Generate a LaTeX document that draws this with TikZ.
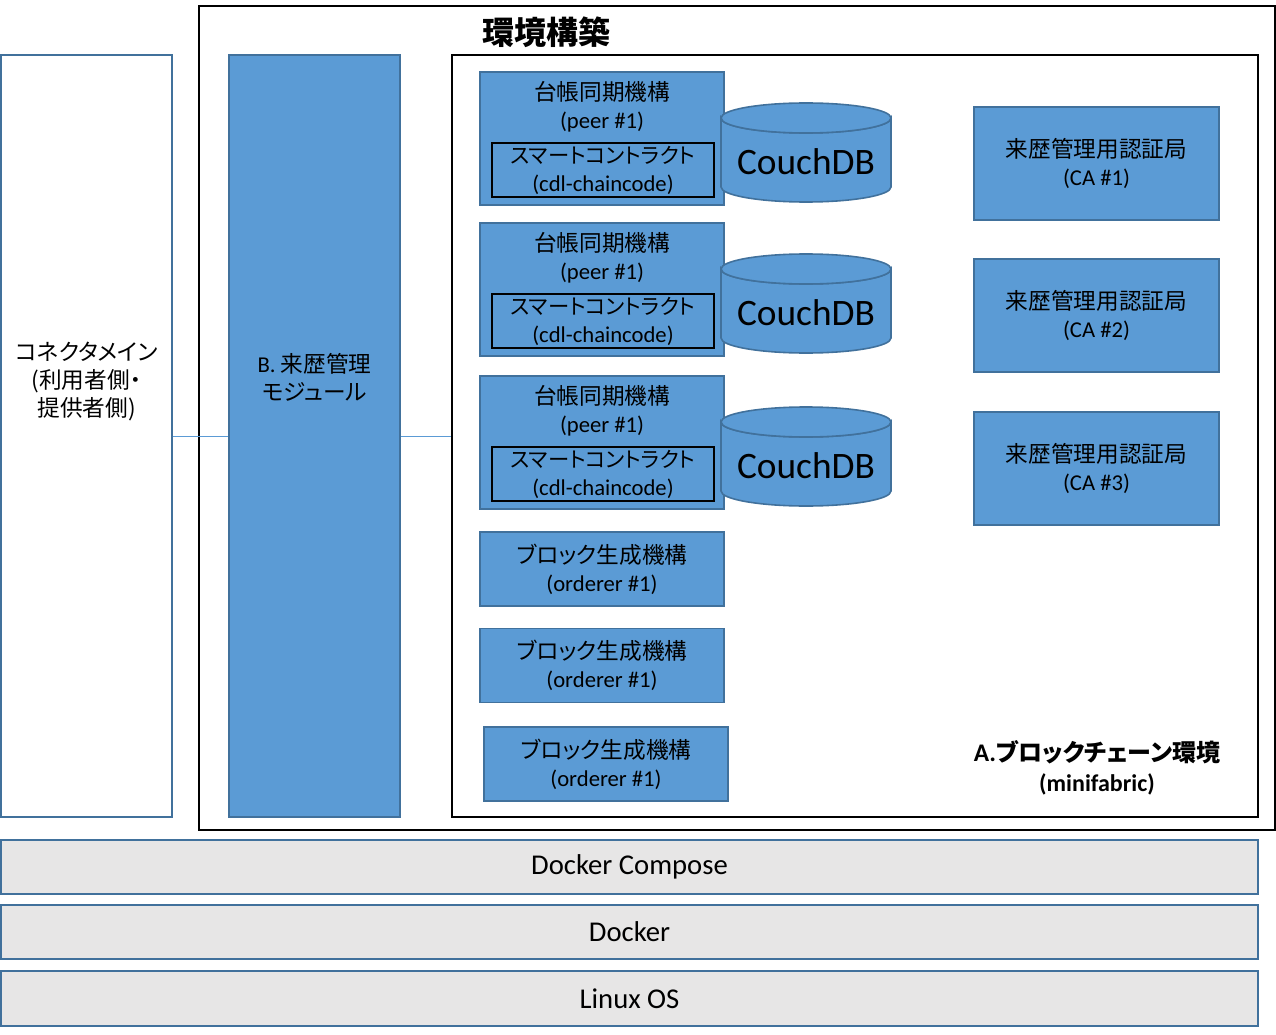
\documentclass[tikz,border=0pt]{standalone}
\usepackage{fontspec}
\setmainfont{Carlito}
\newfontfamily\jp[RawFeature=+palt]{Noto Sans CJK JP}
\usetikzlibrary{calc}
\definecolor{blufill}{HTML}{5B9BD5}
\definecolor{bluedge}{HTML}{41719C}
\definecolor{layfill}{HTML}{E7E6E6}
\newcommand\jpmid{\jp\fontsize{17pt}{21pt}\selectfont}
\newcommand\smartname{{\fontsize{16pt}{21pt}\selectfont スマートコントラクト}}
\def\couchdb(#1,#2){\filldraw[dbshape] (#1-85, #2+15) -- (#1-85, #2+84) arc (180:0:85 and 15) -- (#1+85, #2+15) arc (0:180:85 and 15) -- cycle;
	\draw[dbshape] (#1, #2+15) ellipse (85 and 15);}
\tikzset{
	frame/.style={draw=black, line width=1.6pt, inner sep=0pt},
	blubox/.style={draw=bluedge, fill=blufill, line width=1.2pt, inner sep=0pt, font=\jpmid, align=center},
	peerbox/.style={blubox, minimum width=183pt, minimum height=99.75pt},
	smartbox/.style={draw=black, line width=1.4pt, inner sep=0pt, minimum width=166.5pt, minimum height=40.5pt, font=\jpmid, align=center},
	cabox/.style={blubox, minimum width=183.75pt, minimum height=84.75pt},
	ordbox/.style={blubox, minimum width=183pt, minimum height=55.5pt},
	tallbox/.style={draw=bluedge, line width=1.2pt, inner sep=0pt, minimum width=128.25pt, minimum height=571.5pt},
	layer/.style={draw=bluedge, fill=layfill, line width=1.6pt, inner sep=0pt, minimum width=942.75pt, font=\fontsize{21.5pt}{25pt}\selectfont},
	dbshape/.style={draw=bluedge, fill=blufill, line width=1.2pt},
	link/.style={draw=blufill, line width=0.6pt},
	txt/.style={font=\jpmid, align=center, inner sep=0pt},
}
\begin{document}
\begin{tikzpicture}[x=0.75pt, y=-0.75pt]
		%%%%% START %%%%%
		\useasboundingbox (0,0) rectangle (1276,1034);
		
		\node[tallbox, fill=white] (conn) at (86.5,436) {};
		\node[txt] (conntext) at (86.5,381) {コネクタメイン\\(利用者側・\\提供者側)};
		\node[tallbox, fill=blufill] (bmod) at (314.5,436) {};
		\node[txt] (bmodtext) at (314.5,377) {{\rmfamily B. }来歴管理\\モジュール};
		
		\node[frame, minimum width=807pt, minimum height=618pt] (env) at (737,418) {};
		\node[font=\jp\bfseries\fontsize{24pt}{28pt}\selectfont, inner sep=0pt] (envtitle) at (546,32) {環境構築};
		\node[frame, minimum width=604.5pt, minimum height=571.5pt] (chain) at (855,436) {};
		\node[txt, font=\jp\bfseries\fontsize{18pt}{22.5pt}\selectfont] (chaintitle) at (1097,768) {{\rmfamily\fontsize{19pt}{22.5pt}\selectfont A.}ブロックチェーン環境\\{\rmfamily (minifabric)}};
		
		\draw[link] (conn.east) -- (bmod.west);
		\draw[link] (bmod.east) -- (chain.west);
		
		\node[peerbox] (peer1) at (602,138.5) {};
		\node[txt] (peer1text) at (602,107) {台帳同期機構\\{\rmfamily (peer \#1)}};
		\node[smartbox] (smart1) at (603,170) {\smartname\\{\rmfamily (cdl-chaincode)}};
		\couchdb(806,103)
		\node[font=\fontsize{28pt}{32pt}\selectfont, inner sep=0pt] (db1) at (806,162) {CouchDB};
		
		\node[peerbox] (peer2) at (602,289.5) {};
		\node[txt] (peer2text) at (602,258) {台帳同期機構\\{\rmfamily (peer \#1)}};
		\node[smartbox] (smart2) at (603,321) {\smartname\\{\rmfamily (cdl-chaincode)}};
		\couchdb(806,254)
		\node[font=\fontsize{28pt}{32pt}\selectfont, inner sep=0pt] (db2) at (806,313) {CouchDB};
		
		\node[peerbox] (peer3) at (602,442.5) {};
		\node[txt] (peer3text) at (602,411) {台帳同期機構\\{\rmfamily (peer \#1)}};
		\node[smartbox] (smart3) at (603,474) {\smartname\\{\rmfamily (cdl-chaincode)}};
		\couchdb(806,407)
		\node[font=\fontsize{28pt}{32pt}\selectfont, inner sep=0pt] (db3) at (806,466) {CouchDB};
		
		\node[cabox] (ca1) at (1096.5,163.5) {来歴管理用認証局\\{\rmfamily (CA \#1)}};
		\node[cabox] (ca2) at (1096.5,315.5) {来歴管理用認証局\\{\rmfamily (CA \#2)}};
		\node[cabox] (ca3) at (1096.5,468.5) {来歴管理用認証局\\{\rmfamily (CA \#3)}};
		
		\node[ordbox] (ord1) at (602,569) {ブロック生成機構\\{\rmfamily (orderer \#1)}};
		\node[ordbox] (ord2) at (602,665.5) {ブロック生成機構\\{\rmfamily (orderer \#1)}};
		\node[ordbox] (ord3) at (606,764) {ブロック生成機構\\{\rmfamily (orderer \#1)}};
		
		\node[layer, minimum height=40.5pt] (compose) at (629.5,867) {Docker Compose};
		\node[layer, minimum height=40.5pt] (docker) at (629.5,932) {Docker};
		\node[layer, minimum height=41.25pt] (linux) at (629.5,998.5) {Linux OS};
		
		%%%%% END %%%%%
	\end{tikzpicture}
\end{document}
